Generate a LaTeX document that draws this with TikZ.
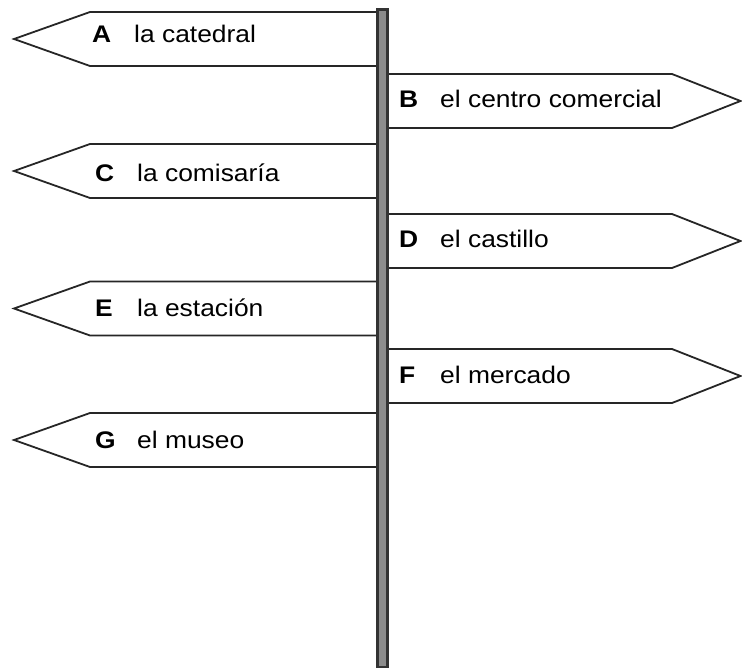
\documentclass[tikz,border=0pt]{standalone}
\usepackage{fontspec}
\setmainfont{Liberation Sans}[FakeStretch=1.1]
\usetikzlibrary{calc}

\tikzset{
  signleft/.style={draw=black!85, line width=1.8pt, fill=white, line join=miter},
  signright/.style={draw=black!85, line width=1.8pt, fill=white, line join=miter},
  poste/.style={draw=black!80, line width=2.8pt, fill=black!45},
  letra/.style={anchor=base west, inner sep=0, font=\fontsize{24}{29}\selectfont\bfseries},
  rotulo/.style={anchor=base west, inner sep=0, font=\fontsize{24}{29}\selectfont}
}

\begin{document}
\begin{tikzpicture}[x=1pt, y=-1pt]
\useasboundingbox (0,0) rectangle (742,669);
% signs pointing left
\foreach \l/\txt/\y/\b/\xl/\xt in {A/la catedral/12/31/92/134, C/la comisaría/144/37/95/137, E/la estación/281.5/34.5/95/137, G/el museo/413/35/95/137} {
 \draw[signleft] (378,\y) -- (90,\y) -- (14,\y+27) -- (90,\y+54) -- (378,\y+54) -- cycle;
 \node[letra] (l\l) at (\xl,\y+\b) {\l};
 \node[rotulo] (t\l) at (\xt,\y+\b) {\txt};
}
% signs pointing right
\foreach \l/\txt/\y/\b in {B/el centro comercial/74/33, D/el castillo/214/33, F/el mercado/349/34} {
 \draw[signright] (387,\y) -- (672,\y) -- (740.5,\y+27) -- (672,\y+54) -- (387,\y+54) -- cycle;
 \node[letra] (l\l) at (399,\y+\b) {\l};
 \node[rotulo] (t\l) at (440,\y+\b) {\txt};
}
% the post
\draw[poste] (377.5,9.5) rectangle (387.5,667);
\end{tikzpicture}
\end{document}
